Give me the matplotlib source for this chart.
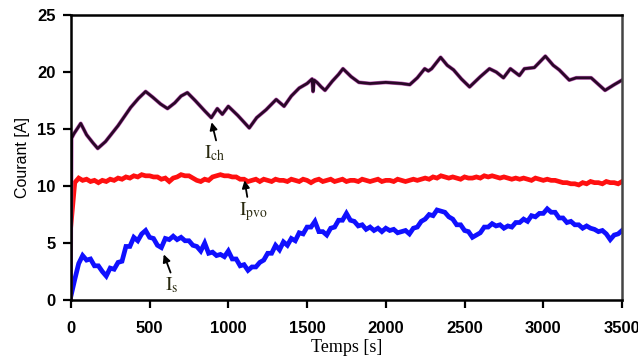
import matplotlib
matplotlib.use("Agg")
import matplotlib.pyplot as plt

# ---- data ----
t_ch = [0, 5, 20, 63, 100, 140, 171, 220, 300, 380, 430, 475, 520, 570, 614, 660, 700, 740,
        790, 850, 892, 930, 962, 1000, 1060, 1100, 1133, 1180, 1240, 1304, 1354, 1400, 1450,
        1500, 1532, 1538, 1545, 1563, 1590, 1614, 1660, 1700, 1728, 1780, 1829, 1900, 2000,
        2100, 2152, 2200, 2247, 2270, 2291, 2348, 2390, 2430, 2480, 2532, 2600, 2658, 2702,
        2747, 2791, 2848, 2880, 2943, 3013, 3063, 3101, 3165, 3209, 3304, 3392, 3450, 3500]
i_ch = [0, 14.2, 14.6, 15.5, 14.5, 13.8, 13.3, 13.9, 15.3, 16.9, 17.7, 18.3, 17.8, 17.2, 16.8,
        17.3, 17.9, 18.2, 17.5, 16.6, 16.0, 16.8, 16.3, 17.0, 16.2, 15.6, 15.1, 16.0, 16.7,
        17.6, 17.0, 17.9, 18.6, 19.0, 19.4, 18.3, 19.3, 19.1, 18.7, 18.4, 19.2, 19.8, 20.3,
        19.6, 19.1, 19.0, 19.1, 19.0, 18.9, 19.5, 20.3, 20.1, 20.3, 21.3, 20.6, 20.2, 19.4,
        18.7, 19.6, 20.3, 20.0, 19.5, 20.3, 19.7, 20.3, 20.4, 21.4, 20.6, 20.2, 19.3, 19.5,
        19.5, 18.4, 18.9, 19.3]

t_s = list(range(0, 3501, 25))
i_s = [0.3, 1.8, 3.2, 3.9, 3.5, 3.6, 3.0, 3.0, 2.5, 2.1,
       2.8, 2.7, 3.3, 3.4, 4.7, 4.7, 5.5, 5.2, 5.8, 6.1,
       5.5, 5.4, 4.8, 4.6, 5.4, 5.3, 5.6, 5.3, 5.5, 5.2,
       5.2, 4.8, 4.7, 4.3, 5.0, 4.1, 4.2, 3.9, 4.0, 3.8,
       4.3, 3.6, 3.6, 3.0, 3.1, 2.6, 2.9, 2.9, 3.3, 3.5,
       4.1, 4.1, 4.8, 4.4, 5.1, 4.8, 5.4, 5.2, 5.9, 5.8,
       6.4, 6.4, 6.9, 6.0, 6.0, 5.7, 6.3, 6.4, 7.0, 7.0,
       7.6, 7.0, 6.9, 6.5, 6.6, 6.2, 6.4, 6.1, 6.3, 6.0,
       6.3, 6.1, 6.2, 5.9, 6.0, 6.1, 5.8, 6.3, 6.4, 6.9,
       7.1, 7.5, 7.4, 7.9, 7.8, 7.7, 7.3, 7.1, 6.6, 6.6,
       6.1, 6.0, 5.5, 5.7, 5.9, 6.4, 6.4, 6.7, 6.5, 6.6,
       6.3, 6.5, 6.4, 6.8, 6.8, 7.1, 6.9, 7.4, 7.3, 7.6,
       7.6, 8.0, 7.7, 7.7, 7.2, 7.2, 6.8, 6.9, 6.6, 6.6,
       6.3, 6.5, 6.3, 6.2, 6.0, 6.1, 5.8, 5.3, 5.7, 5.8,
       6.1]

t_pvo = list(range(0, 3501, 25))
i_pvo = [6.5, 10.3, 10.7, 10.5, 10.6, 10.4, 10.5, 10.3, 10.5, 10.4, 10.6, 10.5, 10.7, 10.6,
         10.8, 10.7, 10.9, 10.8, 11.0, 10.9, 10.9, 10.8, 10.8, 10.6, 10.7, 10.4, 10.7, 10.8,
         11.0, 10.9, 10.9, 10.7, 10.5, 10.4, 10.6, 10.5, 10.8, 10.9, 11.0, 10.9, 10.9, 10.8,
         10.8, 10.6, 10.6, 10.4, 10.5, 10.6, 10.4, 10.6, 10.5, 10.4, 10.6, 10.5, 10.5, 10.4,
         10.6, 10.5, 10.4, 10.6, 10.5, 10.3, 10.5, 10.6, 10.4, 10.5, 10.6, 10.4, 10.5, 10.6,
         10.4, 10.5, 10.5, 10.4, 10.6, 10.5, 10.4, 10.5, 10.6, 10.4, 10.5, 10.5, 10.4, 10.6,
         10.5, 10.4, 10.5, 10.6, 10.5, 10.6, 10.7, 10.6, 10.8, 10.7, 10.9, 10.8, 10.7, 10.8,
         10.7, 10.6, 10.8, 10.7, 10.7, 10.8, 10.7, 10.9, 10.8, 10.9, 10.8, 10.7, 10.8, 10.7,
         10.6, 10.7, 10.6, 10.7, 10.6, 10.5, 10.7, 10.6, 10.5, 10.6, 10.5, 10.5, 10.4, 10.3,
         10.3, 10.2, 10.2, 10.1, 10.3, 10.2, 10.4, 10.3, 10.3, 10.2, 10.4, 10.3, 10.3, 10.2,
         10.4]

xticks = [0, 500, 1000, 1500, 2000, 2500, 3000, 3500]
yticks = [0, 5, 10, 15, 20, 25]

# ---- figure ----
plt.rcParams['mathtext.fontset'] = 'stix'
fig = plt.figure(figsize=(6.38, 3.61), dpi=100)
ax = fig.add_axes([0.111, 0.169, 0.864, 0.789])

ax.plot(t_pvo, i_pvo, color='#ff1010', lw=3.4, solid_joinstyle='miter')
ax.plot(t_s, i_s, color='#1010ff', lw=3.4, solid_joinstyle='miter')
ax.plot(t_ch, i_ch, color='#c060b8', lw=2.8, solid_joinstyle='round')
ax.plot(t_ch, i_ch, color='#2a0828', lw=2.0, solid_joinstyle='round')

ax.set_xlim(0, 3500)
ax.set_ylim(0, 25)
ax.set_xticks(xticks)
ax.set_yticks(yticks)
ax.set_xticklabels([str(v) for v in xticks], fontfamily='Liberation Sans',
                   fontweight='bold', fontsize=12)
ax.set_yticklabels([str(v) for v in yticks], fontfamily='Liberation Sans',
                   fontweight='bold', fontsize=12)
ax.tick_params(axis='both', direction='out', length=6, width=1.6, pad=5)
ax.tick_params(axis='x', pad=9)

for side in ['left', 'bottom', 'top']:
    ax.spines[side].set_linewidth(1.8)
    ax.spines[side].set_color('black')
ax.spines['right'].set_linewidth(1.8)
ax.spines['right'].set_color('#444444')

ax.set_ylabel('Courant [A]', fontfamily='Liberation Sans', fontsize=11.5, labelpad=5)
ax.set_xlabel('Temps [s]', fontfamily='Liberation Serif', fontsize=13, labelpad=2)

arrow = dict(arrowstyle='-|>', color='black', lw=1.3, mutation_scale=11,
             shrinkA=0, shrinkB=0)
txtcol = '#2a2a10'
ax.annotate(r'$\mathrm{I_{ch}}$', xy=(894, 15.6), xytext=(913, 12.9),
            ha='center', va='center', fontsize=14, color=txtcol,
            arrowprops=dict(arrow, relpos=(0.6, 1.0)))
ax.annotate(r'$\mathrm{I_{pvo}}$', xy=(1103, 10.5), xytext=(1160, 7.8),
            ha='center', va='center', fontsize=14, color=txtcol,
            arrowprops=dict(arrow, relpos=(0.3, 1.0)))
ax.annotate(r'$\mathrm{I_{s}}$', xy=(590, 4.0), xytext=(640, 1.3),
            ha='center', va='center', fontsize=14, color=txtcol,
            arrowprops=dict(arrow, relpos=(0.5, 1.0)))

fig.savefig('out.png', dpi=100)
